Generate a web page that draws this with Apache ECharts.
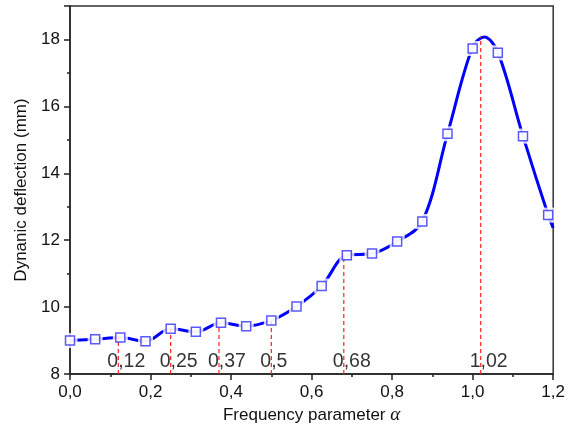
<!DOCTYPE html>
<html>
<head>
<meta charset="utf-8">
<script src="https://cdn.jsdelivr.net/npm/echarts@6/dist/echarts.min.js"></script>
<style>
  html, body { margin: 0; padding: 0; background: #fff; }
  #chart { width: 568px; height: 431px; }
</style>
</head>
<body>
<div id="chart"></div>
<script>
// Measured points (hollow squares)
const alphaX = [0, 0.0625, 0.125, 0.1875, 0.25, 0.3125, 0.375, 0.4375, 0.5, 0.5625,
                0.625, 0.6875, 0.75, 0.8125, 0.875, 0.9375, 1.0, 1.0625, 1.125, 1.1875];
const deflection = [9.00, 9.04, 9.09, 8.98, 9.35, 9.26, 9.53, 9.43, 9.60, 10.02,
                    10.63, 11.55, 11.60, 11.96, 12.56, 15.18, 17.73, 17.60, 15.11, 12.75];

// Fitted curve
const fitX = [0, 0.0625, 0.125, 0.1875, 0.25, 0.3125, 0.375, 0.4375, 0.5, 0.5625,
              0.625, 0.6875, 0.75, 0.8125, 0.875, 0.9375, 1.0, 1.029, 1.0625, 1.125, 1.1875, 1.2];
const fitY = [9.00, 9.04, 9.09, 8.98, 9.35, 9.26, 9.53, 9.43, 9.60, 10.02,
              10.63, 11.55, 11.60, 11.96, 12.56, 15.18, 17.78, 18.07, 17.62, 15.11, 12.75, 12.37];

// Resonance markers (red dashed lines)
const resX = [0.12, 0.25, 0.37, 0.5, 0.68, 1.02];
const resTop = [9.09, 9.35, 9.53, 9.60, 11.52, 18.07];
const resLabels = ['0,12', '0,25', '0,37', '0,5', '0,68', '1,02'];
const resLabelY = 8.37;

// Axis tick labels
const xTicks = [0, 0.2, 0.4, 0.6, 0.8, 1.0, 1.2];
const xTickLabels = ['0,0', '0,2', '0,4', '0,6', '0,8', '1,0', '1,2'];

const FONT = 'Liberation Sans, Arial, sans-serif';
const chart = echarts.init(document.getElementById('chart'), null, { renderer: 'canvas' });

const redSeries = resX.map((x, i) => ({
  type: 'line',
  data: [[x, 8], [x, resTop[i]]],
  symbol: 'none',
  lineStyle: { color: '#ff2020', width: 1.2, type: [4, 3] },
  z: 4,
  silent: true,
  animation: false
}));

chart.setOption({
  animation: false,
  grid: { left: 70, right: 14, top: 6, bottom: 57, show: true, borderColor: '#333', borderWidth: 1.5 },
  xAxis: {
    type: 'value', min: 0, max: 1.2, interval: 0.2,
    name: '{t|Frequency parameter }{a|α}',
    nameLocation: 'middle', nameGap: 29,
    nameTextStyle: {
      rich: {
        t: { fontFamily: FONT, fontSize: 17, color: '#111' },
        a: { fontFamily: 'Liberation Serif, serif', fontStyle: 'italic', fontSize: 19, color: '#111' }
      }
    },
    axisLine: { lineStyle: { color: '#222', width: 1.5 } },
    axisTick: { show: true, inside: false, length: 6, lineStyle: { color: '#222', width: 1.5 } },
    minorTick: { show: true, splitNumber: 2, length: 3, lineStyle: { color: '#222', width: 1.5 } },
    splitLine: { show: false },
    axisLabel: {
      fontFamily: FONT, fontSize: 17, color: '#111', margin: 10,
      formatter: v => { const i = xTicks.findIndex(t => Math.abs(t - v) < 1e-6); return i >= 0 ? xTickLabels[i] : ''; }
    }
  },
  yAxis: {
    type: 'value', min: 8, max: 19, interval: 2,
    name: 'Dynanic deflection (mm)',
    nameLocation: 'middle', nameGap: 38, nameRotate: 90,
    nameTextStyle: { fontFamily: FONT, fontSize: 17, color: '#111' },
    axisLine: { show: true, lineStyle: { color: '#222', width: 1.5 } },
    axisTick: { show: true, inside: false, length: 6, lineStyle: { color: '#222', width: 1.5 } },
    minorTick: { show: true, splitNumber: 2, length: 3, lineStyle: { color: '#222', width: 1.5 } },
    splitLine: { show: false },
    axisLabel: { fontFamily: FONT, fontSize: 17, color: '#111', margin: 10, showMaxLabel: false }
  },
  series: [
    {
      type: 'line',
      data: fitX.map((x, i) => [x, fitY[i]]),
      smooth: 0.35,
      showSymbol: false,
      symbol: 'none',
      lineStyle: { color: '#0000ff', width: 3 },
      z: 2, silent: true
    },
    {
      type: 'scatter',
      data: alphaX.map((x, i) => [x, deflection[i]]),
      symbol: 'rect', symbolSize: 15,
      itemStyle: { color: '#ffffff' },
      z: 3, silent: true
    },
    ...redSeries,
    {
      type: 'scatter',
      data: alphaX.map((x, i) => [x, deflection[i]]),
      symbol: 'rect', symbolSize: 9,
      itemStyle: { color: '#ffffff', borderColor: '#3030ff', borderWidth: 1.5 },
      z: 5, silent: true
    },
    {
      type: 'scatter',
      data: resX.map((x, i) => ({ value: [x, resLabelY], name: resLabels[i] })),
      symbolSize: 0,
      label: {
        show: true, position: 'inside', align: 'left', verticalAlign: 'middle', offset: [-11, 0],
        formatter: p => p.name, fontFamily: FONT, fontSize: 19.5, color: '#000'
      },
      z: 6, silent: true
    }
  ]
});
</script>
</body>
</html>
